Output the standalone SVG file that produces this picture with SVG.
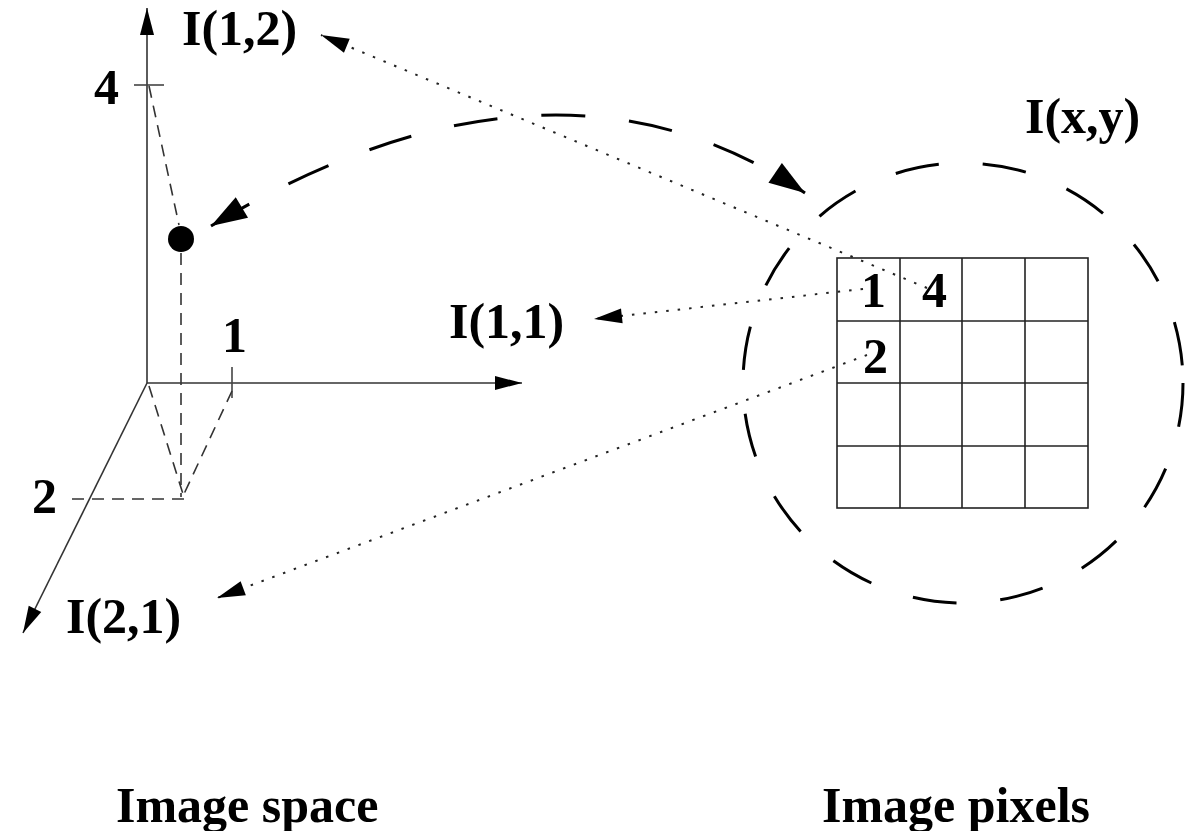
<svg xmlns="http://www.w3.org/2000/svg" width="1196" height="831" viewBox="0 0 1196 831">
  <style>
    .lbl { font-family: "Liberation Serif", "Times New Roman", serif; font-weight: bold; font-size: 50px; fill: #000; }
    .axis { stroke: #333; stroke-width: 1.6; fill: none; }
    .tick { stroke: #444; stroke-width: 1.6; fill: none; }
    .guide { stroke: #333; stroke-width: 1.6; fill: none; stroke-dasharray: 12 8; }
    .dotted { stroke: #222; stroke-width: 2; fill: none; stroke-dasharray: 2.5 9; }
    .bigdash { stroke: #000; stroke-width: 3; fill: none; stroke-dasharray: 44 44; }
    .grid { stroke: #222; stroke-width: 1.6; fill: none; }
  </style>
  <defs>
    <marker id="axisHead" markerUnits="userSpaceOnUse" viewBox="-30 -10 32 20" refX="0" refY="0" markerWidth="32" markerHeight="20" orient="auto">
      <path d="M0,0 L-27,-7 L-27,7 Z" fill="#000"/>
    </marker>
    <marker id="dotHead" markerUnits="userSpaceOnUse" viewBox="-30 -10 32 20" refX="0" refY="0" markerWidth="32" markerHeight="20" orient="auto">
      <path d="M0,0 L-28,-7.5 L-28,7.5 Z" fill="#000"/>
    </marker>
    <marker id="bigHead" markerUnits="userSpaceOnUse" viewBox="-40 -14 42 28" refX="0" refY="0" markerWidth="42" markerHeight="28" orient="auto-start-reverse">
      <path d="M0,0 L-36,-12 L-36,12 Z" fill="#000"/>
    </marker>
  </defs>

  <!-- image space: three axes -->
  <g id="image-space-axes">
    <line class="axis" x1="147" y1="383" x2="147" y2="8" marker-end="url(#axisHead)"/>
    <line class="axis" x1="147" y1="383" x2="522" y2="383" marker-end="url(#axisHead)"/>
    <line class="axis" x1="147" y1="383" x2="23" y2="633" marker-end="url(#axisHead)"/>
    <line class="tick" x1="134" y1="85" x2="164" y2="85"/>
    <line class="tick" x1="232" y1="367" x2="232" y2="398"/>
    <text class="lbl" x="94" y="104">4</text>
    <text class="lbl" x="222" y="352">1</text>
    <text class="lbl" x="32" y="513">2</text>
  </g>

  <!-- projection guides onto the axes -->
  <g id="guides">
    <line class="guide" x1="149" y1="86" x2="179" y2="225"/>
    <line class="guide" x1="181" y1="253" x2="181" y2="497"/>
    <line class="guide" x1="149" y1="386" x2="183" y2="494"/>
    <line class="guide" x1="232" y1="391" x2="184" y2="494"/>
    <line class="guide" x1="72" y1="499" x2="185" y2="499"/>
  </g>

  <!-- sample point -->
  <g id="sample-point">
    <circle cx="181" cy="239" r="13" fill="#000"/>
  </g>

  <!-- axis end labels -->
  <g id="label-i12"><text class="lbl" x="182" y="45">I(1,2)</text></g>
  <g id="label-i11"><text class="lbl" x="449" y="338">I(1,1)</text></g>
  <g id="label-i21"><text class="lbl" x="66" y="633">I(2,1)</text></g>

  <!-- image pixels: neighbourhood and 4x4 pixel grid -->
  <g id="pixel-neighbourhood">
    <circle class="bigdash" cx="963" cy="383" r="220"/>
    <text class="lbl" x="1025" y="133">I(x,y)</text>
  </g>
  <g id="pixel-grid">
    <rect class="grid" x="837" y="258" width="251" height="250"/>
    <line class="grid" x1="900" y1="258" x2="900" y2="508"/>
    <line class="grid" x1="962" y1="258" x2="962" y2="508"/>
    <line class="grid" x1="1025" y1="258" x2="1025" y2="508"/>
    <line class="grid" x1="837" y1="321" x2="1088" y2="321"/>
    <line class="grid" x1="837" y1="383" x2="1088" y2="383"/>
    <line class="grid" x1="837" y1="446" x2="1088" y2="446"/>
    <text class="lbl" x="861" y="307">1</text>
    <text class="lbl" x="922" y="307">4</text>
    <text class="lbl" x="863" y="373">2</text>
  </g>

  <!-- connectors -->
  <g id="connectors">
    <path class="bigdash" d="M211,226 Q552,22 805,193" marker-start="url(#bigHead)" marker-end="url(#bigHead)"/>
    <line class="dotted" x1="927" y1="288" x2="321" y2="35" marker-end="url(#dotHead)"/>
    <line class="dotted" x1="863" y1="289" x2="594" y2="319" marker-end="url(#dotHead)"/>
    <line class="dotted" x1="867" y1="355" x2="217" y2="598" marker-end="url(#dotHead)"/>
  </g>

  <!-- captions -->
  <g id="captions">
    <text class="lbl" x="116" y="822">Image space</text>
    <text class="lbl" x="822" y="822">Image pixels</text>
  </g>
</svg>
